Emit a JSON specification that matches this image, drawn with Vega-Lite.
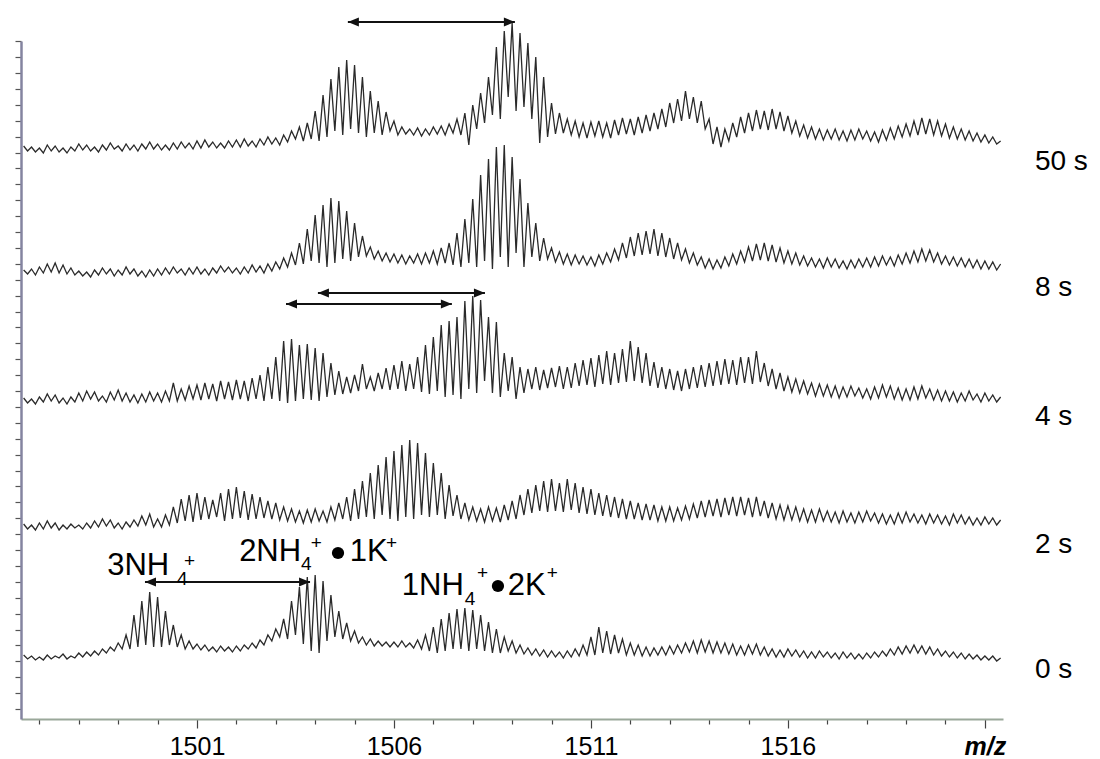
{
"$schema": "https://vega.github.io/schema/vega-lite/v6.json",
"width": 982, "height": 678,
"autosize": {"type": "none"},
"padding": {"left": 21, "top": 41, "right": 97, "bottom": 40},
"background": "white",
"config": {"view": {"stroke": null}, "axis": {"grid": false}},
"datasets": {
"traces": [
{"s":0,"x":1496.6,"y":64},{"s":0,"x":1496.7,"y":60},{"s":0,"x":1496.8,"y":63},{"s":0,"x":1496.9,"y":59},
{"s":0,"x":1497,"y":62},{"s":0,"x":1497.1,"y":59},{"s":0,"x":1497.2,"y":64},{"s":0,"x":1497.3,"y":60},{"s":0,"x":1497.4,"y":63},{"s":0,"x":1497.5,"y":61},{"s":0,"x":1497.6,"y":65},{"s":0,"x":1497.7,"y":60},{"s":0,"x":1497.8,"y":63},{"s":0,"x":1497.9,"y":61},
{"s":0,"x":1498,"y":66},{"s":0,"x":1498.1,"y":62},{"s":0,"x":1498.2,"y":67},{"s":0,"x":1498.3,"y":63},{"s":0,"x":1498.4,"y":68},{"s":0,"x":1498.5,"y":64},{"s":0,"x":1498.6,"y":70},{"s":0,"x":1498.7,"y":66},{"s":0,"x":1498.8,"y":72},{"s":0,"x":1498.9,"y":68},
{"s":0,"x":1499,"y":76},{"s":0,"x":1499.1,"y":70},{"s":0,"x":1499.2,"y":84},{"s":0,"x":1499.3,"y":70},{"s":0,"x":1499.4,"y":104},{"s":0,"x":1499.5,"y":72},{"s":0,"x":1499.6,"y":118},{"s":0,"x":1499.7,"y":74},{"s":0,"x":1499.8,"y":127},{"s":0,"x":1499.9,"y":72},
{"s":0,"x":1500,"y":122},{"s":0,"x":1500.1,"y":72},{"s":0,"x":1500.2,"y":108},{"s":0,"x":1500.3,"y":74},{"s":0,"x":1500.4,"y":94},{"s":0,"x":1500.5,"y":72},{"s":0,"x":1500.6,"y":84},{"s":0,"x":1500.7,"y":70},{"s":0,"x":1500.8,"y":78},{"s":0,"x":1500.9,"y":70},
{"s":0,"x":1501,"y":75},{"s":0,"x":1501.1,"y":69},{"s":0,"x":1501.2,"y":74},{"s":0,"x":1501.3,"y":68},{"s":0,"x":1501.4,"y":72},{"s":0,"x":1501.5,"y":67},{"s":0,"x":1501.6,"y":73},{"s":0,"x":1501.7,"y":68},{"s":0,"x":1501.8,"y":72},{"s":0,"x":1501.9,"y":67},
{"s":0,"x":1502,"y":73},{"s":0,"x":1502.1,"y":68},{"s":0,"x":1502.2,"y":74},{"s":0,"x":1502.3,"y":70},{"s":0,"x":1502.4,"y":76},{"s":0,"x":1502.5,"y":71},{"s":0,"x":1502.6,"y":79},{"s":0,"x":1502.7,"y":74},{"s":0,"x":1502.8,"y":84},{"s":0,"x":1502.9,"y":78},
{"s":0,"x":1503,"y":90},{"s":0,"x":1503.1,"y":82},{"s":0,"x":1503.2,"y":100},{"s":0,"x":1503.3,"y":80},{"s":0,"x":1503.4,"y":118},{"s":0,"x":1503.5,"y":84},{"s":0,"x":1503.6,"y":132},{"s":0,"x":1503.7,"y":75},{"s":0,"x":1503.8,"y":142},{"s":0,"x":1503.9,"y":68},
{"s":0,"x":1504,"y":144},{"s":0,"x":1504.1,"y":66},{"s":0,"x":1504.2,"y":138},{"s":0,"x":1504.3,"y":78},{"s":0,"x":1504.4,"y":124},{"s":0,"x":1504.5,"y":82},{"s":0,"x":1504.6,"y":108},{"s":0,"x":1504.7,"y":80},{"s":0,"x":1504.8,"y":96},{"s":0,"x":1504.9,"y":78},
{"s":0,"x":1505,"y":88},{"s":0,"x":1505.1,"y":76},{"s":0,"x":1505.2,"y":82},{"s":0,"x":1505.3,"y":74},{"s":0,"x":1505.4,"y":80},{"s":0,"x":1505.5,"y":73},{"s":0,"x":1505.6,"y":78},{"s":0,"x":1505.7,"y":73},{"s":0,"x":1505.8,"y":77},{"s":0,"x":1505.9,"y":72},
{"s":0,"x":1506,"y":77},{"s":0,"x":1506.1,"y":72},{"s":0,"x":1506.2,"y":78},{"s":0,"x":1506.3,"y":72},{"s":0,"x":1506.4,"y":76},{"s":0,"x":1506.5,"y":71},{"s":0,"x":1506.6,"y":79},{"s":0,"x":1506.7,"y":70},{"s":0,"x":1506.8,"y":84},{"s":0,"x":1506.9,"y":68},
{"s":0,"x":1507,"y":92},{"s":0,"x":1507.1,"y":66},{"s":0,"x":1507.2,"y":100},{"s":0,"x":1507.3,"y":68},{"s":0,"x":1507.4,"y":106},{"s":0,"x":1507.5,"y":70},{"s":0,"x":1507.6,"y":110},{"s":0,"x":1507.7,"y":70},{"s":0,"x":1507.8,"y":111},{"s":0,"x":1507.9,"y":68},
{"s":0,"x":1508,"y":109},{"s":0,"x":1508.1,"y":70},{"s":0,"x":1508.2,"y":104},{"s":0,"x":1508.3,"y":68},{"s":0,"x":1508.4,"y":97},{"s":0,"x":1508.5,"y":66},{"s":0,"x":1508.6,"y":90},{"s":0,"x":1508.7,"y":66},{"s":0,"x":1508.8,"y":82},{"s":0,"x":1508.9,"y":68},
{"s":0,"x":1509,"y":78},{"s":0,"x":1509.1,"y":66},{"s":0,"x":1509.2,"y":74},{"s":0,"x":1509.3,"y":65},{"s":0,"x":1509.4,"y":71},{"s":0,"x":1509.5,"y":64},{"s":0,"x":1509.6,"y":70},{"s":0,"x":1509.7,"y":63},{"s":0,"x":1509.8,"y":69},{"s":0,"x":1509.9,"y":62},
{"s":0,"x":1510,"y":68},{"s":0,"x":1510.1,"y":62},{"s":0,"x":1510.2,"y":67},{"s":0,"x":1510.3,"y":61},{"s":0,"x":1510.4,"y":68},{"s":0,"x":1510.5,"y":62},{"s":0,"x":1510.6,"y":70},{"s":0,"x":1510.7,"y":63},{"s":0,"x":1510.8,"y":74},{"s":0,"x":1510.9,"y":64},
{"s":0,"x":1511,"y":82},{"s":0,"x":1511.1,"y":64},{"s":0,"x":1511.2,"y":92},{"s":0,"x":1511.3,"y":66},{"s":0,"x":1511.4,"y":88},{"s":0,"x":1511.5,"y":65},{"s":0,"x":1511.6,"y":84},{"s":0,"x":1511.7,"y":66},{"s":0,"x":1511.8,"y":80},{"s":0,"x":1511.9,"y":64},
{"s":0,"x":1512,"y":76},{"s":0,"x":1512.1,"y":64},{"s":0,"x":1512.2,"y":74},{"s":0,"x":1512.3,"y":63},{"s":0,"x":1512.4,"y":72},{"s":0,"x":1512.5,"y":63},{"s":0,"x":1512.6,"y":71},{"s":0,"x":1512.7,"y":64},{"s":0,"x":1512.8,"y":72},{"s":0,"x":1512.9,"y":64},
{"s":0,"x":1513,"y":73},{"s":0,"x":1513.1,"y":65},{"s":0,"x":1513.2,"y":74},{"s":0,"x":1513.3,"y":66},{"s":0,"x":1513.4,"y":76},{"s":0,"x":1513.5,"y":67},{"s":0,"x":1513.6,"y":78},{"s":0,"x":1513.7,"y":66},{"s":0,"x":1513.8,"y":79},{"s":0,"x":1513.9,"y":67},
{"s":0,"x":1514,"y":78},{"s":0,"x":1514.1,"y":66},{"s":0,"x":1514.2,"y":77},{"s":0,"x":1514.3,"y":66},{"s":0,"x":1514.4,"y":76},{"s":0,"x":1514.5,"y":65},{"s":0,"x":1514.6,"y":75},{"s":0,"x":1514.7,"y":64},{"s":0,"x":1514.8,"y":73},{"s":0,"x":1514.9,"y":64},
{"s":0,"x":1515,"y":74},{"s":0,"x":1515.1,"y":65},{"s":0,"x":1515.2,"y":75},{"s":0,"x":1515.3,"y":64},{"s":0,"x":1515.4,"y":72},{"s":0,"x":1515.5,"y":63},{"s":0,"x":1515.6,"y":70},{"s":0,"x":1515.7,"y":62},{"s":0,"x":1515.8,"y":69},{"s":0,"x":1515.9,"y":62},
{"s":0,"x":1516,"y":70},{"s":0,"x":1516.1,"y":63},{"s":0,"x":1516.2,"y":69},{"s":0,"x":1516.3,"y":62},{"s":0,"x":1516.4,"y":68},{"s":0,"x":1516.5,"y":61},{"s":0,"x":1516.6,"y":67},{"s":0,"x":1516.7,"y":61},{"s":0,"x":1516.8,"y":68},{"s":0,"x":1516.9,"y":62},
{"s":0,"x":1517,"y":67},{"s":0,"x":1517.1,"y":61},{"s":0,"x":1517.2,"y":66},{"s":0,"x":1517.3,"y":60},{"s":0,"x":1517.4,"y":67},{"s":0,"x":1517.5,"y":61},{"s":0,"x":1517.6,"y":66},{"s":0,"x":1517.7,"y":60},{"s":0,"x":1517.8,"y":65},{"s":0,"x":1517.9,"y":60},
{"s":0,"x":1518,"y":66},{"s":0,"x":1518.1,"y":61},{"s":0,"x":1518.2,"y":67},{"s":0,"x":1518.3,"y":62},{"s":0,"x":1518.4,"y":68},{"s":0,"x":1518.5,"y":63},{"s":0,"x":1518.6,"y":70},{"s":0,"x":1518.7,"y":64},{"s":0,"x":1518.8,"y":72},{"s":0,"x":1518.9,"y":65},
{"s":0,"x":1519,"y":73},{"s":0,"x":1519.1,"y":66},{"s":0,"x":1519.2,"y":74},{"s":0,"x":1519.3,"y":66},{"s":0,"x":1519.4,"y":73},{"s":0,"x":1519.5,"y":65},{"s":0,"x":1519.6,"y":72},{"s":0,"x":1519.7,"y":64},{"s":0,"x":1519.8,"y":70},{"s":0,"x":1519.9,"y":63},
{"s":0,"x":1520,"y":68},{"s":0,"x":1520.1,"y":62},{"s":0,"x":1520.2,"y":67},{"s":0,"x":1520.3,"y":61},{"s":0,"x":1520.4,"y":66},{"s":0,"x":1520.5,"y":60},{"s":0,"x":1520.6,"y":65},{"s":0,"x":1520.7,"y":60},{"s":0,"x":1520.8,"y":64},{"s":0,"x":1520.9,"y":59},
{"s":0,"x":1521,"y":63},{"s":0,"x":1521.1,"y":59},{"s":0,"x":1521.2,"y":63},{"s":0,"x":1521.3,"y":58},{"s":0,"x":1521.4,"y":61},

{"s":2,"x":1496.6,"y":195},{"s":2,"x":1496.7,"y":190},{"s":2,"x":1496.8,"y":194},{"s":2,"x":1496.9,"y":189},
{"s":2,"x":1497,"y":196},{"s":2,"x":1497.1,"y":190},{"s":2,"x":1497.2,"y":198},{"s":2,"x":1497.3,"y":191},{"s":2,"x":1497.4,"y":196},{"s":2,"x":1497.5,"y":189},{"s":2,"x":1497.6,"y":194},{"s":2,"x":1497.7,"y":190},{"s":2,"x":1497.8,"y":195},{"s":2,"x":1497.9,"y":191},
{"s":2,"x":1498,"y":194},{"s":2,"x":1498.1,"y":190},{"s":2,"x":1498.2,"y":196},{"s":2,"x":1498.3,"y":191},{"s":2,"x":1498.4,"y":198},{"s":2,"x":1498.5,"y":192},{"s":2,"x":1498.6,"y":200},{"s":2,"x":1498.7,"y":193},{"s":2,"x":1498.8,"y":199},{"s":2,"x":1498.9,"y":191},
{"s":2,"x":1499,"y":196},{"s":2,"x":1499.1,"y":190},{"s":2,"x":1499.2,"y":197},{"s":2,"x":1499.3,"y":192},{"s":2,"x":1499.4,"y":199},{"s":2,"x":1499.5,"y":193},{"s":2,"x":1499.6,"y":203},{"s":2,"x":1499.7,"y":194},{"s":2,"x":1499.8,"y":205},{"s":2,"x":1499.9,"y":192},
{"s":2,"x":1500,"y":200},{"s":2,"x":1500.1,"y":192},{"s":2,"x":1500.2,"y":204},{"s":2,"x":1500.3,"y":194},{"s":2,"x":1500.4,"y":212},{"s":2,"x":1500.5,"y":196},{"s":2,"x":1500.6,"y":220},{"s":2,"x":1500.7,"y":198},{"s":2,"x":1500.8,"y":224},{"s":2,"x":1500.9,"y":197},
{"s":2,"x":1501,"y":226},{"s":2,"x":1501.1,"y":199},{"s":2,"x":1501.2,"y":222},{"s":2,"x":1501.3,"y":200},{"s":2,"x":1501.4,"y":219},{"s":2,"x":1501.5,"y":202},{"s":2,"x":1501.6,"y":226},{"s":2,"x":1501.7,"y":198},{"s":2,"x":1501.8,"y":230},{"s":2,"x":1501.9,"y":200},
{"s":2,"x":1502,"y":232},{"s":2,"x":1502.1,"y":201},{"s":2,"x":1502.2,"y":228},{"s":2,"x":1502.3,"y":199},{"s":2,"x":1502.4,"y":225},{"s":2,"x":1502.5,"y":200},{"s":2,"x":1502.6,"y":222},{"s":2,"x":1502.7,"y":201},{"s":2,"x":1502.8,"y":218},{"s":2,"x":1502.9,"y":200},
{"s":2,"x":1503,"y":216},{"s":2,"x":1503.1,"y":199},{"s":2,"x":1503.2,"y":212},{"s":2,"x":1503.3,"y":198},{"s":2,"x":1503.4,"y":210},{"s":2,"x":1503.5,"y":197},{"s":2,"x":1503.6,"y":208},{"s":2,"x":1503.7,"y":196},{"s":2,"x":1503.8,"y":209},{"s":2,"x":1503.9,"y":197},
{"s":2,"x":1504,"y":210},{"s":2,"x":1504.1,"y":198},{"s":2,"x":1504.2,"y":208},{"s":2,"x":1504.3,"y":197},{"s":2,"x":1504.4,"y":212},{"s":2,"x":1504.5,"y":199},{"s":2,"x":1504.6,"y":216},{"s":2,"x":1504.7,"y":200},{"s":2,"x":1504.8,"y":222},{"s":2,"x":1504.9,"y":198},
{"s":2,"x":1505,"y":230},{"s":2,"x":1505.1,"y":200},{"s":2,"x":1505.2,"y":238},{"s":2,"x":1505.3,"y":202},{"s":2,"x":1505.4,"y":246},{"s":2,"x":1505.5,"y":200},{"s":2,"x":1505.6,"y":254},{"s":2,"x":1505.7,"y":204},{"s":2,"x":1505.8,"y":262},{"s":2,"x":1505.9,"y":200},
{"s":2,"x":1506,"y":268},{"s":2,"x":1506.1,"y":198},{"s":2,"x":1506.2,"y":274},{"s":2,"x":1506.3,"y":202},{"s":2,"x":1506.4,"y":279},{"s":2,"x":1506.5,"y":200},{"s":2,"x":1506.6,"y":276},{"s":2,"x":1506.7,"y":204},{"s":2,"x":1506.8,"y":266},{"s":2,"x":1506.9,"y":202},
{"s":2,"x":1507,"y":256},{"s":2,"x":1507.1,"y":204},{"s":2,"x":1507.2,"y":246},{"s":2,"x":1507.3,"y":200},{"s":2,"x":1507.4,"y":234},{"s":2,"x":1507.5,"y":203},{"s":2,"x":1507.6,"y":224},{"s":2,"x":1507.7,"y":200},{"s":2,"x":1507.8,"y":216},{"s":2,"x":1507.9,"y":199},
{"s":2,"x":1508,"y":212},{"s":2,"x":1508.1,"y":198},{"s":2,"x":1508.2,"y":210},{"s":2,"x":1508.3,"y":197},{"s":2,"x":1508.4,"y":212},{"s":2,"x":1508.5,"y":198},{"s":2,"x":1508.6,"y":211},{"s":2,"x":1508.7,"y":197},{"s":2,"x":1508.8,"y":214},{"s":2,"x":1508.9,"y":199},
{"s":2,"x":1509,"y":218},{"s":2,"x":1509.1,"y":200},{"s":2,"x":1509.2,"y":224},{"s":2,"x":1509.3,"y":204},{"s":2,"x":1509.4,"y":230},{"s":2,"x":1509.5,"y":206},{"s":2,"x":1509.6,"y":234},{"s":2,"x":1509.7,"y":208},{"s":2,"x":1509.8,"y":238},{"s":2,"x":1509.9,"y":207},
{"s":2,"x":1510,"y":240},{"s":2,"x":1510.1,"y":208},{"s":2,"x":1510.2,"y":236},{"s":2,"x":1510.3,"y":207},{"s":2,"x":1510.4,"y":240},{"s":2,"x":1510.5,"y":209},{"s":2,"x":1510.6,"y":236},{"s":2,"x":1510.7,"y":206},{"s":2,"x":1510.8,"y":232},{"s":2,"x":1510.9,"y":205},
{"s":2,"x":1511,"y":230},{"s":2,"x":1511.1,"y":204},{"s":2,"x":1511.2,"y":226},{"s":2,"x":1511.3,"y":203},{"s":2,"x":1511.4,"y":224},{"s":2,"x":1511.5,"y":202},{"s":2,"x":1511.6,"y":222},{"s":2,"x":1511.7,"y":201},{"s":2,"x":1511.8,"y":220},{"s":2,"x":1511.9,"y":200},
{"s":2,"x":1512,"y":218},{"s":2,"x":1512.1,"y":200},{"s":2,"x":1512.2,"y":216},{"s":2,"x":1512.3,"y":199},{"s":2,"x":1512.4,"y":215},{"s":2,"x":1512.5,"y":199},{"s":2,"x":1512.6,"y":214},{"s":2,"x":1512.7,"y":198},{"s":2,"x":1512.8,"y":212},{"s":2,"x":1512.9,"y":198},
{"s":2,"x":1513,"y":212},{"s":2,"x":1513.1,"y":198},{"s":2,"x":1513.2,"y":211},{"s":2,"x":1513.3,"y":199},{"s":2,"x":1513.4,"y":213},{"s":2,"x":1513.5,"y":200},{"s":2,"x":1513.6,"y":215},{"s":2,"x":1513.7,"y":201},{"s":2,"x":1513.8,"y":218},{"s":2,"x":1513.9,"y":202},
{"s":2,"x":1514,"y":219},{"s":2,"x":1514.1,"y":203},{"s":2,"x":1514.2,"y":220},{"s":2,"x":1514.3,"y":202},{"s":2,"x":1514.4,"y":221},{"s":2,"x":1514.5,"y":204},{"s":2,"x":1514.6,"y":222},{"s":2,"x":1514.7,"y":203},{"s":2,"x":1514.8,"y":222},{"s":2,"x":1514.9,"y":204},
{"s":2,"x":1515,"y":221},{"s":2,"x":1515.1,"y":202},{"s":2,"x":1515.2,"y":222},{"s":2,"x":1515.3,"y":203},{"s":2,"x":1515.4,"y":218},{"s":2,"x":1515.5,"y":201},{"s":2,"x":1515.6,"y":216},{"s":2,"x":1515.7,"y":200},{"s":2,"x":1515.8,"y":214},{"s":2,"x":1515.9,"y":199},
{"s":2,"x":1516,"y":213},{"s":2,"x":1516.1,"y":199},{"s":2,"x":1516.2,"y":212},{"s":2,"x":1516.3,"y":198},{"s":2,"x":1516.4,"y":210},{"s":2,"x":1516.5,"y":197},{"s":2,"x":1516.6,"y":209},{"s":2,"x":1516.7,"y":197},{"s":2,"x":1516.8,"y":210},{"s":2,"x":1516.9,"y":198},
{"s":2,"x":1517,"y":208},{"s":2,"x":1517.1,"y":197},{"s":2,"x":1517.2,"y":207},{"s":2,"x":1517.3,"y":196},{"s":2,"x":1517.4,"y":208},{"s":2,"x":1517.5,"y":197},{"s":2,"x":1517.6,"y":206},{"s":2,"x":1517.7,"y":196},{"s":2,"x":1517.8,"y":207},{"s":2,"x":1517.9,"y":197},
{"s":2,"x":1518,"y":208},{"s":2,"x":1518.1,"y":198},{"s":2,"x":1518.2,"y":206},{"s":2,"x":1518.3,"y":196},{"s":2,"x":1518.4,"y":205},{"s":2,"x":1518.5,"y":195},{"s":2,"x":1518.6,"y":204},{"s":2,"x":1518.7,"y":195},{"s":2,"x":1518.8,"y":206},{"s":2,"x":1518.9,"y":196},
{"s":2,"x":1519,"y":207},{"s":2,"x":1519.1,"y":197},{"s":2,"x":1519.2,"y":205},{"s":2,"x":1519.3,"y":196},{"s":2,"x":1519.4,"y":204},{"s":2,"x":1519.5,"y":195},{"s":2,"x":1519.6,"y":205},{"s":2,"x":1519.7,"y":196},{"s":2,"x":1519.8,"y":204},{"s":2,"x":1519.9,"y":195},
{"s":2,"x":1520,"y":203},{"s":2,"x":1520.1,"y":194},{"s":2,"x":1520.2,"y":205},{"s":2,"x":1520.3,"y":196},{"s":2,"x":1520.4,"y":204},{"s":2,"x":1520.5,"y":195},{"s":2,"x":1520.6,"y":202},{"s":2,"x":1520.7,"y":194},{"s":2,"x":1520.8,"y":201},{"s":2,"x":1520.9,"y":194},
{"s":2,"x":1521,"y":202},{"s":2,"x":1521.1,"y":195},{"s":2,"x":1521.2,"y":201},{"s":2,"x":1521.3,"y":194},{"s":2,"x":1521.4,"y":199},

{"s":4,"x":1496.6,"y":321},{"s":4,"x":1496.7,"y":316},{"s":4,"x":1496.8,"y":320},{"s":4,"x":1496.9,"y":315},
{"s":4,"x":1497,"y":322},{"s":4,"x":1497.1,"y":317},{"s":4,"x":1497.2,"y":325},{"s":4,"x":1497.3,"y":318},{"s":4,"x":1497.4,"y":324},{"s":4,"x":1497.5,"y":316},{"s":4,"x":1497.6,"y":321},{"s":4,"x":1497.7,"y":315},{"s":4,"x":1497.8,"y":322},{"s":4,"x":1497.9,"y":317},
{"s":4,"x":1498,"y":326},{"s":4,"x":1498.1,"y":318},{"s":4,"x":1498.2,"y":328},{"s":4,"x":1498.3,"y":320},{"s":4,"x":1498.4,"y":327},{"s":4,"x":1498.5,"y":318},{"s":4,"x":1498.6,"y":323},{"s":4,"x":1498.7,"y":317},{"s":4,"x":1498.8,"y":327},{"s":4,"x":1498.9,"y":319},
{"s":4,"x":1499,"y":329},{"s":4,"x":1499.1,"y":318},{"s":4,"x":1499.2,"y":326},{"s":4,"x":1499.3,"y":317},{"s":4,"x":1499.4,"y":324},{"s":4,"x":1499.5,"y":316},{"s":4,"x":1499.6,"y":325},{"s":4,"x":1499.7,"y":317},{"s":4,"x":1499.8,"y":327},{"s":4,"x":1499.9,"y":318},
{"s":4,"x":1500,"y":326},{"s":4,"x":1500.1,"y":317},{"s":4,"x":1500.2,"y":328},{"s":4,"x":1500.3,"y":318},{"s":4,"x":1500.4,"y":336},{"s":4,"x":1500.5,"y":318},{"s":4,"x":1500.6,"y":330},{"s":4,"x":1500.7,"y":319},{"s":4,"x":1500.8,"y":333},{"s":4,"x":1500.9,"y":320},
{"s":4,"x":1501,"y":334},{"s":4,"x":1501.1,"y":319},{"s":4,"x":1501.2,"y":336},{"s":4,"x":1501.3,"y":320},{"s":4,"x":1501.4,"y":335},{"s":4,"x":1501.5,"y":318},{"s":4,"x":1501.6,"y":338},{"s":4,"x":1501.7,"y":320},{"s":4,"x":1501.8,"y":337},{"s":4,"x":1501.9,"y":319},
{"s":4,"x":1502,"y":339},{"s":4,"x":1502.1,"y":320},{"s":4,"x":1502.2,"y":338},{"s":4,"x":1502.3,"y":318},{"s":4,"x":1502.4,"y":341},{"s":4,"x":1502.5,"y":320},{"s":4,"x":1502.6,"y":344},{"s":4,"x":1502.7,"y":318},{"s":4,"x":1502.8,"y":352},{"s":4,"x":1502.9,"y":320},
{"s":4,"x":1503,"y":362},{"s":4,"x":1503.1,"y":318},{"s":4,"x":1503.2,"y":378},{"s":4,"x":1503.3,"y":316},{"s":4,"x":1503.4,"y":380},{"s":4,"x":1503.5,"y":318},{"s":4,"x":1503.6,"y":374},{"s":4,"x":1503.7,"y":320},{"s":4,"x":1503.8,"y":375},{"s":4,"x":1503.9,"y":319},
{"s":4,"x":1504,"y":371},{"s":4,"x":1504.1,"y":318},{"s":4,"x":1504.2,"y":366},{"s":4,"x":1504.3,"y":322},{"s":4,"x":1504.4,"y":356},{"s":4,"x":1504.5,"y":324},{"s":4,"x":1504.6,"y":348},{"s":4,"x":1504.7,"y":325},{"s":4,"x":1504.8,"y":342},{"s":4,"x":1504.9,"y":326},
{"s":4,"x":1505,"y":344},{"s":4,"x":1505.1,"y":328},{"s":4,"x":1505.2,"y":355},{"s":4,"x":1505.3,"y":330},{"s":4,"x":1505.4,"y":342},{"s":4,"x":1505.5,"y":328},{"s":4,"x":1505.6,"y":346},{"s":4,"x":1505.7,"y":330},{"s":4,"x":1505.8,"y":351},{"s":4,"x":1505.9,"y":329},
{"s":4,"x":1506,"y":354},{"s":4,"x":1506.1,"y":330},{"s":4,"x":1506.2,"y":358},{"s":4,"x":1506.3,"y":328},{"s":4,"x":1506.4,"y":355},{"s":4,"x":1506.5,"y":330},{"s":4,"x":1506.6,"y":362},{"s":4,"x":1506.7,"y":327},{"s":4,"x":1506.8,"y":374},{"s":4,"x":1506.9,"y":325},
{"s":4,"x":1507,"y":382},{"s":4,"x":1507.1,"y":328},{"s":4,"x":1507.2,"y":394},{"s":4,"x":1507.3,"y":322},{"s":4,"x":1507.4,"y":398},{"s":4,"x":1507.5,"y":324},{"s":4,"x":1507.6,"y":402},{"s":4,"x":1507.7,"y":320},{"s":4,"x":1507.8,"y":418},{"s":4,"x":1507.9,"y":330},
{"s":4,"x":1508,"y":423},{"s":4,"x":1508.1,"y":326},{"s":4,"x":1508.2,"y":419},{"s":4,"x":1508.3,"y":338},{"s":4,"x":1508.4,"y":402},{"s":4,"x":1508.5,"y":326},{"s":4,"x":1508.6,"y":397},{"s":4,"x":1508.7,"y":322},{"s":4,"x":1508.8,"y":366},{"s":4,"x":1508.9,"y":328},
{"s":4,"x":1509,"y":362},{"s":4,"x":1509.1,"y":320},{"s":4,"x":1509.2,"y":352},{"s":4,"x":1509.3,"y":326},{"s":4,"x":1509.4,"y":350},{"s":4,"x":1509.5,"y":330},{"s":4,"x":1509.6,"y":352},{"s":4,"x":1509.7,"y":329},{"s":4,"x":1509.8,"y":349},{"s":4,"x":1509.9,"y":331},
{"s":4,"x":1510,"y":351},{"s":4,"x":1510.1,"y":332},{"s":4,"x":1510.2,"y":353},{"s":4,"x":1510.3,"y":330},{"s":4,"x":1510.4,"y":352},{"s":4,"x":1510.5,"y":331},{"s":4,"x":1510.6,"y":356},{"s":4,"x":1510.7,"y":333},{"s":4,"x":1510.8,"y":359},{"s":4,"x":1510.9,"y":334},
{"s":4,"x":1511,"y":361},{"s":4,"x":1511.1,"y":332},{"s":4,"x":1511.2,"y":364},{"s":4,"x":1511.3,"y":335},{"s":4,"x":1511.4,"y":368},{"s":4,"x":1511.5,"y":334},{"s":4,"x":1511.6,"y":366},{"s":4,"x":1511.7,"y":336},{"s":4,"x":1511.8,"y":370},{"s":4,"x":1511.9,"y":337},
{"s":4,"x":1512,"y":378},{"s":4,"x":1512.1,"y":338},{"s":4,"x":1512.2,"y":372},{"s":4,"x":1512.3,"y":336},{"s":4,"x":1512.4,"y":366},{"s":4,"x":1512.5,"y":333},{"s":4,"x":1512.6,"y":357},{"s":4,"x":1512.7,"y":331},{"s":4,"x":1512.8,"y":352},{"s":4,"x":1512.9,"y":330},
{"s":4,"x":1513,"y":350},{"s":4,"x":1513.1,"y":329},{"s":4,"x":1513.2,"y":348},{"s":4,"x":1513.3,"y":328},{"s":4,"x":1513.4,"y":350},{"s":4,"x":1513.5,"y":330},{"s":4,"x":1513.6,"y":352},{"s":4,"x":1513.7,"y":331},{"s":4,"x":1513.8,"y":354},{"s":4,"x":1513.9,"y":332},
{"s":4,"x":1514,"y":356},{"s":4,"x":1514.1,"y":333},{"s":4,"x":1514.2,"y":358},{"s":4,"x":1514.3,"y":334},{"s":4,"x":1514.4,"y":360},{"s":4,"x":1514.5,"y":335},{"s":4,"x":1514.6,"y":359},{"s":4,"x":1514.7,"y":334},{"s":4,"x":1514.8,"y":362},{"s":4,"x":1514.9,"y":336},
{"s":4,"x":1515,"y":362},{"s":4,"x":1515.1,"y":335},{"s":4,"x":1515.2,"y":368},{"s":4,"x":1515.3,"y":337},{"s":4,"x":1515.4,"y":356},{"s":4,"x":1515.5,"y":333},{"s":4,"x":1515.6,"y":350},{"s":4,"x":1515.7,"y":330},{"s":4,"x":1515.8,"y":346},{"s":4,"x":1515.9,"y":328},
{"s":4,"x":1516,"y":342},{"s":4,"x":1516.1,"y":327},{"s":4,"x":1516.2,"y":340},{"s":4,"x":1516.3,"y":326},{"s":4,"x":1516.4,"y":338},{"s":4,"x":1516.5,"y":325},{"s":4,"x":1516.6,"y":336},{"s":4,"x":1516.7,"y":323},{"s":4,"x":1516.8,"y":335},{"s":4,"x":1516.9,"y":323},
{"s":4,"x":1517,"y":334},{"s":4,"x":1517.1,"y":322},{"s":4,"x":1517.2,"y":333},{"s":4,"x":1517.3,"y":321},{"s":4,"x":1517.4,"y":332},{"s":4,"x":1517.5,"y":322},{"s":4,"x":1517.6,"y":333},{"s":4,"x":1517.7,"y":323},{"s":4,"x":1517.8,"y":331},{"s":4,"x":1517.9,"y":321},
{"s":4,"x":1518,"y":330},{"s":4,"x":1518.1,"y":320},{"s":4,"x":1518.2,"y":332},{"s":4,"x":1518.3,"y":321},{"s":4,"x":1518.4,"y":334},{"s":4,"x":1518.5,"y":322},{"s":4,"x":1518.6,"y":333},{"s":4,"x":1518.7,"y":320},{"s":4,"x":1518.8,"y":331},{"s":4,"x":1518.9,"y":319},
{"s":4,"x":1519,"y":330},{"s":4,"x":1519.1,"y":319},{"s":4,"x":1519.2,"y":332},{"s":4,"x":1519.3,"y":320},{"s":4,"x":1519.4,"y":333},{"s":4,"x":1519.5,"y":321},{"s":4,"x":1519.6,"y":330},{"s":4,"x":1519.7,"y":319},{"s":4,"x":1519.8,"y":329},{"s":4,"x":1519.9,"y":318},
{"s":4,"x":1520,"y":328},{"s":4,"x":1520.1,"y":318},{"s":4,"x":1520.2,"y":327},{"s":4,"x":1520.3,"y":317},{"s":4,"x":1520.4,"y":326},{"s":4,"x":1520.5,"y":318},{"s":4,"x":1520.6,"y":328},{"s":4,"x":1520.7,"y":319},{"s":4,"x":1520.8,"y":325},{"s":4,"x":1520.9,"y":317},
{"s":4,"x":1521,"y":326},{"s":4,"x":1521.1,"y":318},{"s":4,"x":1521.2,"y":324},{"s":4,"x":1521.3,"y":317},{"s":4,"x":1521.4,"y":322},

{"s":8,"x":1496.6,"y":449},{"s":8,"x":1496.7,"y":445},{"s":8,"x":1496.8,"y":450},{"s":8,"x":1496.9,"y":444},
{"s":8,"x":1497,"y":452},{"s":8,"x":1497.1,"y":446},{"s":8,"x":1497.2,"y":455},{"s":8,"x":1497.3,"y":447},{"s":8,"x":1497.4,"y":456},{"s":8,"x":1497.5,"y":446},{"s":8,"x":1497.6,"y":454},{"s":8,"x":1497.7,"y":445},{"s":8,"x":1497.8,"y":451},{"s":8,"x":1497.9,"y":444},
{"s":8,"x":1498,"y":448},{"s":8,"x":1498.1,"y":443},{"s":8,"x":1498.2,"y":447},{"s":8,"x":1498.3,"y":442},{"s":8,"x":1498.4,"y":449},{"s":8,"x":1498.5,"y":444},{"s":8,"x":1498.6,"y":451},{"s":8,"x":1498.7,"y":445},{"s":8,"x":1498.8,"y":450},{"s":8,"x":1498.9,"y":443},
{"s":8,"x":1499,"y":449},{"s":8,"x":1499.1,"y":444},{"s":8,"x":1499.2,"y":452},{"s":8,"x":1499.3,"y":445},{"s":8,"x":1499.4,"y":450},{"s":8,"x":1499.5,"y":443},{"s":8,"x":1499.6,"y":448},{"s":8,"x":1499.7,"y":442},{"s":8,"x":1499.8,"y":449},{"s":8,"x":1499.9,"y":443},
{"s":8,"x":1500,"y":450},{"s":8,"x":1500.1,"y":444},{"s":8,"x":1500.2,"y":451},{"s":8,"x":1500.3,"y":445},{"s":8,"x":1500.4,"y":452},{"s":8,"x":1500.5,"y":446},{"s":8,"x":1500.6,"y":450},{"s":8,"x":1500.7,"y":444},{"s":8,"x":1500.8,"y":451},{"s":8,"x":1500.9,"y":445},
{"s":8,"x":1501,"y":452},{"s":8,"x":1501.1,"y":445},{"s":8,"x":1501.2,"y":450},{"s":8,"x":1501.3,"y":444},{"s":8,"x":1501.4,"y":451},{"s":8,"x":1501.5,"y":446},{"s":8,"x":1501.6,"y":453},{"s":8,"x":1501.7,"y":447},{"s":8,"x":1501.8,"y":452},{"s":8,"x":1501.9,"y":446},
{"s":8,"x":1502,"y":451},{"s":8,"x":1502.1,"y":445},{"s":8,"x":1502.2,"y":452},{"s":8,"x":1502.3,"y":446},{"s":8,"x":1502.4,"y":454},{"s":8,"x":1502.5,"y":447},{"s":8,"x":1502.6,"y":453},{"s":8,"x":1502.7,"y":446},{"s":8,"x":1502.8,"y":455},{"s":8,"x":1502.9,"y":448},
{"s":8,"x":1503,"y":457},{"s":8,"x":1503.1,"y":450},{"s":8,"x":1503.2,"y":461},{"s":8,"x":1503.3,"y":452},{"s":8,"x":1503.4,"y":466},{"s":8,"x":1503.5,"y":454},{"s":8,"x":1503.6,"y":476},{"s":8,"x":1503.7,"y":455},{"s":8,"x":1503.8,"y":490},{"s":8,"x":1503.9,"y":458},
{"s":8,"x":1504,"y":504},{"s":8,"x":1504.1,"y":456},{"s":8,"x":1504.2,"y":514},{"s":8,"x":1504.3,"y":452},{"s":8,"x":1504.4,"y":521},{"s":8,"x":1504.5,"y":456},{"s":8,"x":1504.6,"y":518},{"s":8,"x":1504.7,"y":460},{"s":8,"x":1504.8,"y":508},{"s":8,"x":1504.9,"y":458},
{"s":8,"x":1505,"y":496},{"s":8,"x":1505.1,"y":462},{"s":8,"x":1505.2,"y":483},{"s":8,"x":1505.3,"y":463},{"s":8,"x":1505.4,"y":472},{"s":8,"x":1505.5,"y":460},{"s":8,"x":1505.6,"y":468},{"s":8,"x":1505.7,"y":458},{"s":8,"x":1505.8,"y":466},{"s":8,"x":1505.9,"y":457},
{"s":8,"x":1506,"y":465},{"s":8,"x":1506.1,"y":456},{"s":8,"x":1506.2,"y":464},{"s":8,"x":1506.3,"y":455},{"s":8,"x":1506.4,"y":463},{"s":8,"x":1506.5,"y":456},{"s":8,"x":1506.6,"y":465},{"s":8,"x":1506.7,"y":455},{"s":8,"x":1506.8,"y":466},{"s":8,"x":1506.9,"y":456},
{"s":8,"x":1507,"y":468},{"s":8,"x":1507.1,"y":455},{"s":8,"x":1507.2,"y":471},{"s":8,"x":1507.3,"y":456},{"s":8,"x":1507.4,"y":476},{"s":8,"x":1507.5,"y":454},{"s":8,"x":1507.6,"y":486},{"s":8,"x":1507.7,"y":452},{"s":8,"x":1507.8,"y":500},{"s":8,"x":1507.9,"y":456},
{"s":8,"x":1508,"y":520},{"s":8,"x":1508.1,"y":452},{"s":8,"x":1508.2,"y":544},{"s":8,"x":1508.3,"y":458},{"s":8,"x":1508.4,"y":560},{"s":8,"x":1508.5,"y":450},{"s":8,"x":1508.6,"y":572},{"s":8,"x":1508.7,"y":462},{"s":8,"x":1508.8,"y":574},{"s":8,"x":1508.9,"y":452},
{"s":8,"x":1509,"y":562},{"s":8,"x":1509.1,"y":466},{"s":8,"x":1509.2,"y":540},{"s":8,"x":1509.3,"y":452},{"s":8,"x":1509.4,"y":516},{"s":8,"x":1509.5,"y":462},{"s":8,"x":1509.6,"y":496},{"s":8,"x":1509.7,"y":458},{"s":8,"x":1509.8,"y":481},{"s":8,"x":1509.9,"y":460},
{"s":8,"x":1510,"y":471},{"s":8,"x":1510.1,"y":457},{"s":8,"x":1510.2,"y":467},{"s":8,"x":1510.3,"y":455},{"s":8,"x":1510.4,"y":465},{"s":8,"x":1510.5,"y":454},{"s":8,"x":1510.6,"y":464},{"s":8,"x":1510.7,"y":455},{"s":8,"x":1510.8,"y":463},{"s":8,"x":1510.9,"y":454},
{"s":8,"x":1511,"y":462},{"s":8,"x":1511.1,"y":453},{"s":8,"x":1511.2,"y":464},{"s":8,"x":1511.3,"y":455},{"s":8,"x":1511.4,"y":466},{"s":8,"x":1511.5,"y":457},{"s":8,"x":1511.6,"y":470},{"s":8,"x":1511.7,"y":459},{"s":8,"x":1511.8,"y":476},{"s":8,"x":1511.9,"y":461},
{"s":8,"x":1512,"y":482},{"s":8,"x":1512.1,"y":463},{"s":8,"x":1512.2,"y":486},{"s":8,"x":1512.3,"y":464},{"s":8,"x":1512.4,"y":488},{"s":8,"x":1512.5,"y":465},{"s":8,"x":1512.6,"y":490},{"s":8,"x":1512.7,"y":463},{"s":8,"x":1512.8,"y":486},{"s":8,"x":1512.9,"y":462},
{"s":8,"x":1513,"y":481},{"s":8,"x":1513.1,"y":460},{"s":8,"x":1513.2,"y":476},{"s":8,"x":1513.3,"y":459},{"s":8,"x":1513.4,"y":470},{"s":8,"x":1513.5,"y":456},{"s":8,"x":1513.6,"y":466},{"s":8,"x":1513.7,"y":454},{"s":8,"x":1513.8,"y":462},{"s":8,"x":1513.9,"y":451},
{"s":8,"x":1514,"y":460},{"s":8,"x":1514.1,"y":450},{"s":8,"x":1514.2,"y":459},{"s":8,"x":1514.3,"y":451},{"s":8,"x":1514.4,"y":462},{"s":8,"x":1514.5,"y":453},{"s":8,"x":1514.6,"y":465},{"s":8,"x":1514.7,"y":455},{"s":8,"x":1514.8,"y":468},{"s":8,"x":1514.9,"y":457},
{"s":8,"x":1515,"y":472},{"s":8,"x":1515.1,"y":458},{"s":8,"x":1515.2,"y":475},{"s":8,"x":1515.3,"y":459},{"s":8,"x":1515.4,"y":476},{"s":8,"x":1515.5,"y":458},{"s":8,"x":1515.6,"y":474},{"s":8,"x":1515.7,"y":457},{"s":8,"x":1515.8,"y":471},{"s":8,"x":1515.9,"y":456},
{"s":8,"x":1516,"y":468},{"s":8,"x":1516.1,"y":455},{"s":8,"x":1516.2,"y":466},{"s":8,"x":1516.3,"y":454},{"s":8,"x":1516.4,"y":463},{"s":8,"x":1516.5,"y":453},{"s":8,"x":1516.6,"y":461},{"s":8,"x":1516.7,"y":452},{"s":8,"x":1516.8,"y":460},{"s":8,"x":1516.9,"y":451},
{"s":8,"x":1517,"y":461},{"s":8,"x":1517.1,"y":452},{"s":8,"x":1517.2,"y":460},{"s":8,"x":1517.3,"y":451},{"s":8,"x":1517.4,"y":458},{"s":8,"x":1517.5,"y":450},{"s":8,"x":1517.6,"y":459},{"s":8,"x":1517.7,"y":451},{"s":8,"x":1517.8,"y":460},{"s":8,"x":1517.9,"y":452},
{"s":8,"x":1518,"y":461},{"s":8,"x":1518.1,"y":452},{"s":8,"x":1518.2,"y":462},{"s":8,"x":1518.3,"y":453},{"s":8,"x":1518.4,"y":463},{"s":8,"x":1518.5,"y":454},{"s":8,"x":1518.6,"y":462},{"s":8,"x":1518.7,"y":453},{"s":8,"x":1518.8,"y":464},{"s":8,"x":1518.9,"y":455},
{"s":8,"x":1519,"y":466},{"s":8,"x":1519.1,"y":456},{"s":8,"x":1519.2,"y":468},{"s":8,"x":1519.3,"y":457},{"s":8,"x":1519.4,"y":470},{"s":8,"x":1519.5,"y":458},{"s":8,"x":1519.6,"y":469},{"s":8,"x":1519.7,"y":457},{"s":8,"x":1519.8,"y":466},{"s":8,"x":1519.9,"y":455},
{"s":8,"x":1520,"y":463},{"s":8,"x":1520.1,"y":454},{"s":8,"x":1520.2,"y":462},{"s":8,"x":1520.3,"y":453},{"s":8,"x":1520.4,"y":461},{"s":8,"x":1520.5,"y":452},{"s":8,"x":1520.6,"y":460},{"s":8,"x":1520.7,"y":451},{"s":8,"x":1520.8,"y":459},{"s":8,"x":1520.9,"y":450},
{"s":8,"x":1521,"y":458},{"s":8,"x":1521.1,"y":450},{"s":8,"x":1521.2,"y":457},{"s":8,"x":1521.3,"y":449},{"s":8,"x":1521.4,"y":455},

{"s":50,"x":1496.6,"y":573},{"s":50,"x":1496.7,"y":568},{"s":50,"x":1496.8,"y":572},{"s":50,"x":1496.9,"y":567},
{"s":50,"x":1497,"y":571},{"s":50,"x":1497.1,"y":566},{"s":50,"x":1497.2,"y":574},{"s":50,"x":1497.3,"y":568},{"s":50,"x":1497.4,"y":573},{"s":50,"x":1497.5,"y":567},{"s":50,"x":1497.6,"y":571},{"s":50,"x":1497.7,"y":566},{"s":50,"x":1497.8,"y":572},{"s":50,"x":1497.9,"y":568},
{"s":50,"x":1498,"y":575},{"s":50,"x":1498.1,"y":569},{"s":50,"x":1498.2,"y":574},{"s":50,"x":1498.3,"y":568},{"s":50,"x":1498.4,"y":572},{"s":50,"x":1498.5,"y":567},{"s":50,"x":1498.6,"y":574},{"s":50,"x":1498.7,"y":569},{"s":50,"x":1498.8,"y":576},{"s":50,"x":1498.9,"y":570},
{"s":50,"x":1499,"y":573},{"s":50,"x":1499.1,"y":568},{"s":50,"x":1499.2,"y":575},{"s":50,"x":1499.3,"y":569},{"s":50,"x":1499.4,"y":574},{"s":50,"x":1499.5,"y":568},{"s":50,"x":1499.6,"y":575},{"s":50,"x":1499.7,"y":570},{"s":50,"x":1499.8,"y":577},{"s":50,"x":1499.9,"y":570},
{"s":50,"x":1500,"y":575},{"s":50,"x":1500.1,"y":569},{"s":50,"x":1500.2,"y":574},{"s":50,"x":1500.3,"y":569},{"s":50,"x":1500.4,"y":576},{"s":50,"x":1500.5,"y":570},{"s":50,"x":1500.6,"y":577},{"s":50,"x":1500.7,"y":571},{"s":50,"x":1500.8,"y":576},{"s":50,"x":1500.9,"y":570},
{"s":50,"x":1501,"y":578},{"s":50,"x":1501.1,"y":571},{"s":50,"x":1501.2,"y":579},{"s":50,"x":1501.3,"y":572},{"s":50,"x":1501.4,"y":577},{"s":50,"x":1501.5,"y":571},{"s":50,"x":1501.6,"y":576},{"s":50,"x":1501.7,"y":571},{"s":50,"x":1501.8,"y":578},{"s":50,"x":1501.9,"y":572},
{"s":50,"x":1502,"y":579},{"s":50,"x":1502.1,"y":572},{"s":50,"x":1502.2,"y":580},{"s":50,"x":1502.3,"y":573},{"s":50,"x":1502.4,"y":578},{"s":50,"x":1502.5,"y":572},{"s":50,"x":1502.6,"y":580},{"s":50,"x":1502.7,"y":574},{"s":50,"x":1502.8,"y":582},{"s":50,"x":1502.9,"y":575},
{"s":50,"x":1503,"y":581},{"s":50,"x":1503.1,"y":574},{"s":50,"x":1503.2,"y":584},{"s":50,"x":1503.3,"y":577},{"s":50,"x":1503.4,"y":588},{"s":50,"x":1503.5,"y":580},{"s":50,"x":1503.6,"y":592},{"s":50,"x":1503.7,"y":578},{"s":50,"x":1503.8,"y":596},{"s":50,"x":1503.9,"y":580},
{"s":50,"x":1504,"y":608},{"s":50,"x":1504.1,"y":578},{"s":50,"x":1504.2,"y":624},{"s":50,"x":1504.3,"y":582},{"s":50,"x":1504.4,"y":640},{"s":50,"x":1504.5,"y":588},{"s":50,"x":1504.6,"y":652},{"s":50,"x":1504.7,"y":584},{"s":50,"x":1504.8,"y":659},{"s":50,"x":1504.9,"y":590},
{"s":50,"x":1505,"y":654},{"s":50,"x":1505.1,"y":586},{"s":50,"x":1505.2,"y":642},{"s":50,"x":1505.3,"y":582},{"s":50,"x":1505.4,"y":628},{"s":50,"x":1505.5,"y":586},{"s":50,"x":1505.6,"y":618},{"s":50,"x":1505.7,"y":584},{"s":50,"x":1505.8,"y":607},{"s":50,"x":1505.9,"y":588},
{"s":50,"x":1506,"y":598},{"s":50,"x":1506.1,"y":584},{"s":50,"x":1506.2,"y":592},{"s":50,"x":1506.3,"y":585},{"s":50,"x":1506.4,"y":590},{"s":50,"x":1506.5,"y":584},{"s":50,"x":1506.6,"y":591},{"s":50,"x":1506.7,"y":583},{"s":50,"x":1506.8,"y":590},{"s":50,"x":1506.9,"y":584},
{"s":50,"x":1507,"y":592},{"s":50,"x":1507.1,"y":585},{"s":50,"x":1507.2,"y":593},{"s":50,"x":1507.3,"y":584},{"s":50,"x":1507.4,"y":595},{"s":50,"x":1507.5,"y":586},{"s":50,"x":1507.6,"y":600},{"s":50,"x":1507.7,"y":584},{"s":50,"x":1507.8,"y":606},{"s":50,"x":1507.9,"y":574},
{"s":50,"x":1508,"y":614},{"s":50,"x":1508.1,"y":590},{"s":50,"x":1508.2,"y":626},{"s":50,"x":1508.3,"y":596},{"s":50,"x":1508.4,"y":642},{"s":50,"x":1508.5,"y":604},{"s":50,"x":1508.6,"y":672},{"s":50,"x":1508.7,"y":600},{"s":50,"x":1508.8,"y":688},{"s":50,"x":1508.9,"y":622},
{"s":50,"x":1509,"y":696},{"s":50,"x":1509.1,"y":608},{"s":50,"x":1509.2,"y":686},{"s":50,"x":1509.3,"y":612},{"s":50,"x":1509.4,"y":676},{"s":50,"x":1509.5,"y":600},{"s":50,"x":1509.6,"y":662},{"s":50,"x":1509.7,"y":576},{"s":50,"x":1509.8,"y":642},{"s":50,"x":1509.9,"y":582},
{"s":50,"x":1510,"y":616},{"s":50,"x":1510.1,"y":585},{"s":50,"x":1510.2,"y":606},{"s":50,"x":1510.3,"y":586},{"s":50,"x":1510.4,"y":600},{"s":50,"x":1510.5,"y":584},{"s":50,"x":1510.6,"y":598},{"s":50,"x":1510.7,"y":582},{"s":50,"x":1510.8,"y":596},{"s":50,"x":1510.9,"y":581},
{"s":50,"x":1511,"y":597},{"s":50,"x":1511.1,"y":583},{"s":50,"x":1511.2,"y":598},{"s":50,"x":1511.3,"y":582},{"s":50,"x":1511.4,"y":596},{"s":50,"x":1511.5,"y":581},{"s":50,"x":1511.6,"y":599},{"s":50,"x":1511.7,"y":584},{"s":50,"x":1511.8,"y":601},{"s":50,"x":1511.9,"y":585},
{"s":50,"x":1512,"y":600},{"s":50,"x":1512.1,"y":584},{"s":50,"x":1512.2,"y":602},{"s":50,"x":1512.3,"y":586},{"s":50,"x":1512.4,"y":604},{"s":50,"x":1512.5,"y":588},{"s":50,"x":1512.6,"y":606},{"s":50,"x":1512.7,"y":590},{"s":50,"x":1512.8,"y":610},{"s":50,"x":1512.9,"y":592},
{"s":50,"x":1513,"y":616},{"s":50,"x":1513.1,"y":596},{"s":50,"x":1513.2,"y":620},{"s":50,"x":1513.3,"y":598},{"s":50,"x":1513.4,"y":628},{"s":50,"x":1513.5,"y":600},{"s":50,"x":1513.6,"y":622},{"s":50,"x":1513.7,"y":596},{"s":50,"x":1513.8,"y":618},{"s":50,"x":1513.9,"y":590},
{"s":50,"x":1514,"y":600},{"s":50,"x":1514.1,"y":575},{"s":50,"x":1514.2,"y":592},{"s":50,"x":1514.3,"y":572},{"s":50,"x":1514.4,"y":590},{"s":50,"x":1514.5,"y":578},{"s":50,"x":1514.6,"y":596},{"s":50,"x":1514.7,"y":582},{"s":50,"x":1514.8,"y":602},{"s":50,"x":1514.9,"y":586},
{"s":50,"x":1515,"y":606},{"s":50,"x":1515.1,"y":588},{"s":50,"x":1515.2,"y":609},{"s":50,"x":1515.3,"y":590},{"s":50,"x":1515.4,"y":608},{"s":50,"x":1515.5,"y":589},{"s":50,"x":1515.6,"y":610},{"s":50,"x":1515.7,"y":590},{"s":50,"x":1515.8,"y":607},{"s":50,"x":1515.9,"y":588},
{"s":50,"x":1516,"y":603},{"s":50,"x":1516.1,"y":586},{"s":50,"x":1516.2,"y":598},{"s":50,"x":1516.3,"y":583},{"s":50,"x":1516.4,"y":594},{"s":50,"x":1516.5,"y":581},{"s":50,"x":1516.6,"y":592},{"s":50,"x":1516.7,"y":580},{"s":50,"x":1516.8,"y":590},{"s":50,"x":1516.9,"y":579},
{"s":50,"x":1517,"y":589},{"s":50,"x":1517.1,"y":580},{"s":50,"x":1517.2,"y":590},{"s":50,"x":1517.3,"y":579},{"s":50,"x":1517.4,"y":588},{"s":50,"x":1517.5,"y":578},{"s":50,"x":1517.6,"y":589},{"s":50,"x":1517.7,"y":579},{"s":50,"x":1517.8,"y":590},{"s":50,"x":1517.9,"y":580},
{"s":50,"x":1518,"y":588},{"s":50,"x":1518.1,"y":578},{"s":50,"x":1518.2,"y":587},{"s":50,"x":1518.3,"y":577},{"s":50,"x":1518.4,"y":589},{"s":50,"x":1518.5,"y":579},{"s":50,"x":1518.6,"y":591},{"s":50,"x":1518.7,"y":580},{"s":50,"x":1518.8,"y":593},{"s":50,"x":1518.9,"y":582},
{"s":50,"x":1519,"y":595},{"s":50,"x":1519.1,"y":583},{"s":50,"x":1519.2,"y":598},{"s":50,"x":1519.3,"y":584},{"s":50,"x":1519.4,"y":601},{"s":50,"x":1519.5,"y":585},{"s":50,"x":1519.6,"y":600},{"s":50,"x":1519.7,"y":584},{"s":50,"x":1519.8,"y":598},{"s":50,"x":1519.9,"y":583},
{"s":50,"x":1520,"y":595},{"s":50,"x":1520.1,"y":581},{"s":50,"x":1520.2,"y":592},{"s":50,"x":1520.3,"y":580},{"s":50,"x":1520.4,"y":590},{"s":50,"x":1520.5,"y":579},{"s":50,"x":1520.6,"y":588},{"s":50,"x":1520.7,"y":578},{"s":50,"x":1520.8,"y":586},{"s":50,"x":1520.9,"y":577},
{"s":50,"x":1521,"y":584},{"s":50,"x":1521.1,"y":576},{"s":50,"x":1521.2,"y":582},{"s":50,"x":1521.3,"y":575},{"s":50,"x":1521.4,"y":578}
],
"arrows": [
{"x":1504.83,"x2":1509.07,"y":697},
{"x":1504.07,"x2":1508.31,"y":426},
{"x":1503.26,"x2":1507.47,"y":415},
{"x":1499.68,"x2":1503.87,"y":137}
],
"labels": [
{"t":"50 s","x":1522.27,"y":557},
{"t":"8 s","x":1522.27,"y":431},
{"t":"4 s","x":1522.27,"y":302},
{"t":"2 s","x":1522.27,"y":174},
{"t":"0 s","x":1522.27,"y":49}
],
"main": [
{"t":"3NH","x":1498.72,"y":144},
{"t":"2NH","x":1502.07,"y":158},
{"t":"1K","x":1504.88,"y":158},
{"t":"1NH","x":1506.2,"y":124},
{"t":"2K","x":1508.89,"y":124}
],
"small": [
{"t":"4","x":1500.49,"y":134},
{"t":"+","x":1500.67,"y":152},
{"t":"4","x":1503.64,"y":149},
{"t":"+","x":1503.89,"y":170},
{"t":"+","x":1505.8,"y":170},
{"t":"4","x":1507.8,"y":114},
{"t":"+","x":1508.11,"y":140},
{"t":"+","x":1509.88,"y":140}
],
"bullets": [
{"x":1504.58,"y":166},
{"x":1508.64,"y":133}
]
},
"layer": [
{
"data": {"name": "traces"},
"mark": {"type": "line", "color": "#2a2a2a", "strokeWidth": 1.3},
"encoding": {
"x": {"field": "x", "type": "quantitative", "title": null,
 "scale": {"domain": [1496.533, 1521.46], "nice": false, "zero": false},
 "axis": {"values": [1497,1498,1499,1500,1501,1502,1503,1504,1505,1506,1507,1508,1509,1510,1511,1512,1513,1514,1515,1516,1517,1518,1519,1520,1521],
   "tickCount": 200, "format": "d", "title": null,
   "labelExpr": "datum.value == 1521 ? 'm/z' : ((datum.value - 1501) % 5 == 0 ? datum.label : '')",
   "tickSize": {"condition": {"test": "(datum.value - 1501) % 5 == 0", "value": 9}, "value": 5},
   "tickColor": "#444", "tickWidth": 1.2,
   "domainColor": "#9aa89a", "domainWidth": 2,
   "labelFont": "Liberation Sans", "labelFontSize": 25, "labelColor": "#000",
   "labelBaseline": "alphabetic",
   "labelFontStyle": {"condition": {"test": "datum.value == 1521", "value": "italic"}, "value": "normal"},
   "labelFontWeight": {"condition": {"test": "datum.value == 1521", "value": "bold"}, "value": "normal"},
   "labelPadding": 26, "labelOverlap": false, "labelFlush": false, "labelBound": false, "grid": false}},
"y": {"field": "y", "type": "quantitative", "title": null,
 "scale": {"domain": [0, 678], "nice": false, "zero": false},
 "axis": {"values": [10,25.9,41.8,57.7,73.6,89.5,105.4,121.3,137.2,153.1,169,184.9,200.8,216.7,232.6,248.5,264.4,280.3,296.2,312.1,328,343.9,359.8,375.7,391.6,407.5,423.4,439.3,455.2,471.1,487,502.9,518.8,534.7,550.6,566.5,582.4,598.3,614.2,630.1,646,661.9,677.8],
   "tickCount": 200, "labels": false, "title": null, "tickSize": 6, "tickColor": "#555", "tickWidth": 1.2,
   "domainColor": "#8484a0", "domainWidth": 2.5, "grid": false}},
"detail": {"field": "s", "type": "nominal"}
}
},
{
"data": {"name": "arrows"},
"mark": {"type": "rule", "color": "#111", "strokeWidth": 1.8},
"encoding": {
"x": {"field": "x", "type": "quantitative", "title": null},
"x2": {"field": "x2", "title": null},
"y": {"field": "y", "type": "quantitative", "title": null}
}
},
{
"data": {"name": "arrows"},
"mark": {"type": "point", "shape": "M0,0L2,-0.8L2,0.8Z", "filled": true, "color": "#111", "opacity": 1, "size": 121},
"encoding": {
"x": {"field": "x", "type": "quantitative", "title": null},
"y": {"field": "y", "type": "quantitative", "title": null}
}
},
{
"data": {"name": "arrows"},
"mark": {"type": "point", "shape": "M0,0L-2,-0.8L-2,0.8Z", "filled": true, "color": "#111", "opacity": 1, "size": 121},
"encoding": {
"x": {"field": "x2", "type": "quantitative", "title": null},
"y": {"field": "y", "type": "quantitative", "title": null}
}
},
{
"data": {"name": "labels"},
"mark": {"type": "text", "align": "left", "baseline": "middle", "font": "Liberation Sans", "fontSize": 28, "color": "#000"},
"encoding": {
"x": {"field": "x", "type": "quantitative", "title": null},
"y": {"field": "y", "type": "quantitative", "title": null},
"text": {"field": "t"}
}
},
{
"data": {"name": "main"},
"mark": {"type": "text", "align": "left", "baseline": "alphabetic", "font": "Liberation Sans", "fontSize": 31, "color": "#000"},
"encoding": {
"x": {"field": "x", "type": "quantitative", "title": null},
"y": {"field": "y", "type": "quantitative", "title": null},
"text": {"field": "t"}
}
},
{
"data": {"name": "small"},
"mark": {"type": "text", "align": "left", "baseline": "alphabetic", "font": "Liberation Sans", "fontSize": 19, "color": "#000"},
"encoding": {
"x": {"field": "x", "type": "quantitative", "title": null},
"y": {"field": "y", "type": "quantitative", "title": null},
"text": {"field": "t"}
}
},
{
"data": {"name": "bullets"},
"mark": {"type": "point", "shape": "circle", "filled": true, "color": "#000", "opacity": 1, "size": 150},
"encoding": {
"x": {"field": "x", "type": "quantitative", "title": null},
"y": {"field": "y", "type": "quantitative", "title": null}
}
}
]
}
